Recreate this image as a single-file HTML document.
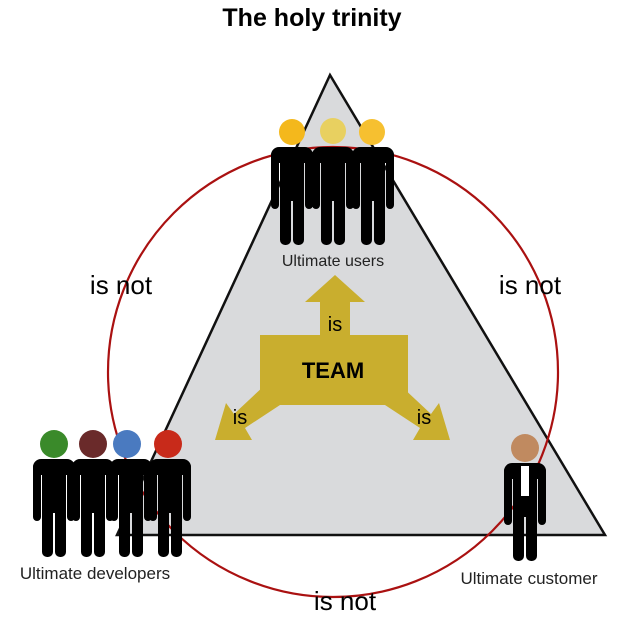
<!DOCTYPE html>
<html><head><style>
body{margin:0;background:#fff;}
svg{display:block;font-family:"Liberation Sans",sans-serif;}
</style></head><body>
<svg width="617" height="620" viewBox="0 0 617 620" xmlns="http://www.w3.org/2000/svg">
<defs>
<g id="p">
<rect x="-21" y="0" width="42" height="16" rx="8" fill="#000"/>
<rect x="-21" y="4" width="8" height="58" rx="4" fill="#000"/>
<rect x="13" y="4" width="8" height="58" rx="4" fill="#000"/>
<rect x="-12" y="4" width="24" height="50" fill="#000"/>
<rect x="-12" y="40" width="11" height="58" rx="5" fill="#000"/>
<rect x="1" y="40" width="11" height="58" rx="5" fill="#000"/>
</g>
</defs>
<text x="312" y="26" font-size="25" font-weight="bold" text-anchor="middle" fill="#000">The holy trinity</text>
<polygon points="330,75 117,535 605,535" fill="#d9dadc" stroke="#111" stroke-width="2.5"/>
<circle cx="333" cy="372" r="225" fill="none" stroke="#a11" stroke-width="2.2"/>
<g fill="#c9ae2e">
<polygon points="335,275 365,302 350,302 350,340 320,340 320,302 305,302"/>
<polygon points="265,385 280,405 245,428 252,440 215,440 226,403 234,414"/>
<polygon points="400,385 385,405 420,428 413,440 450,440 439,403 431,414"/>
<rect x="260" y="335" width="148" height="70"/>
</g>
<text x="335" y="331" font-size="20" text-anchor="middle" fill="#000">is</text>
<text x="240" y="424" font-size="20" text-anchor="middle" fill="#000">is</text>
<text x="424" y="424" font-size="20" text-anchor="middle" fill="#000">is</text>
<text x="333" y="378" font-size="22" font-weight="bold" text-anchor="middle" fill="#000">TEAM</text>
<use href="#p" x="292" y="147"/><use href="#p" x="333" y="147"/><use href="#p" x="373" y="147"/>
<circle cx="292" cy="132" r="13" fill="#f4b81c"/>
<circle cx="333" cy="131" r="13" fill="#e8d060"/>
<circle cx="372" cy="132" r="13" fill="#f6c030"/>
<text x="333" y="266" font-size="16" text-anchor="middle" fill="#222">Ultimate users</text>
<use href="#p" x="54" y="459"/><use href="#p" x="93" y="459"/><use href="#p" x="131" y="459"/><use href="#p" x="170" y="459"/>
<circle cx="54" cy="444" r="14" fill="#3a8a2a"/>
<circle cx="93" cy="444" r="14" fill="#6a2a2a"/>
<circle cx="127" cy="444" r="14" fill="#4a7ac0"/>
<circle cx="168" cy="444" r="14" fill="#c82a1a"/>
<text x="95" y="579" font-size="17" text-anchor="middle" fill="#222">Ultimate developers</text>
<use href="#p" x="525" y="463"/>
<circle cx="525" cy="448" r="14" fill="#c08a60"/>
<rect x="521" y="466" width="8" height="30" fill="#fff"/>
<text x="529" y="584" font-size="17" text-anchor="middle" fill="#222">Ultimate customer</text>
<text x="121" y="294" font-size="26" text-anchor="middle" fill="#000">is not</text>
<text x="530" y="294" font-size="26" text-anchor="middle" fill="#000">is not</text>
<text x="345" y="610" font-size="26" text-anchor="middle" fill="#000">is not</text>
</svg>
</body></html>
